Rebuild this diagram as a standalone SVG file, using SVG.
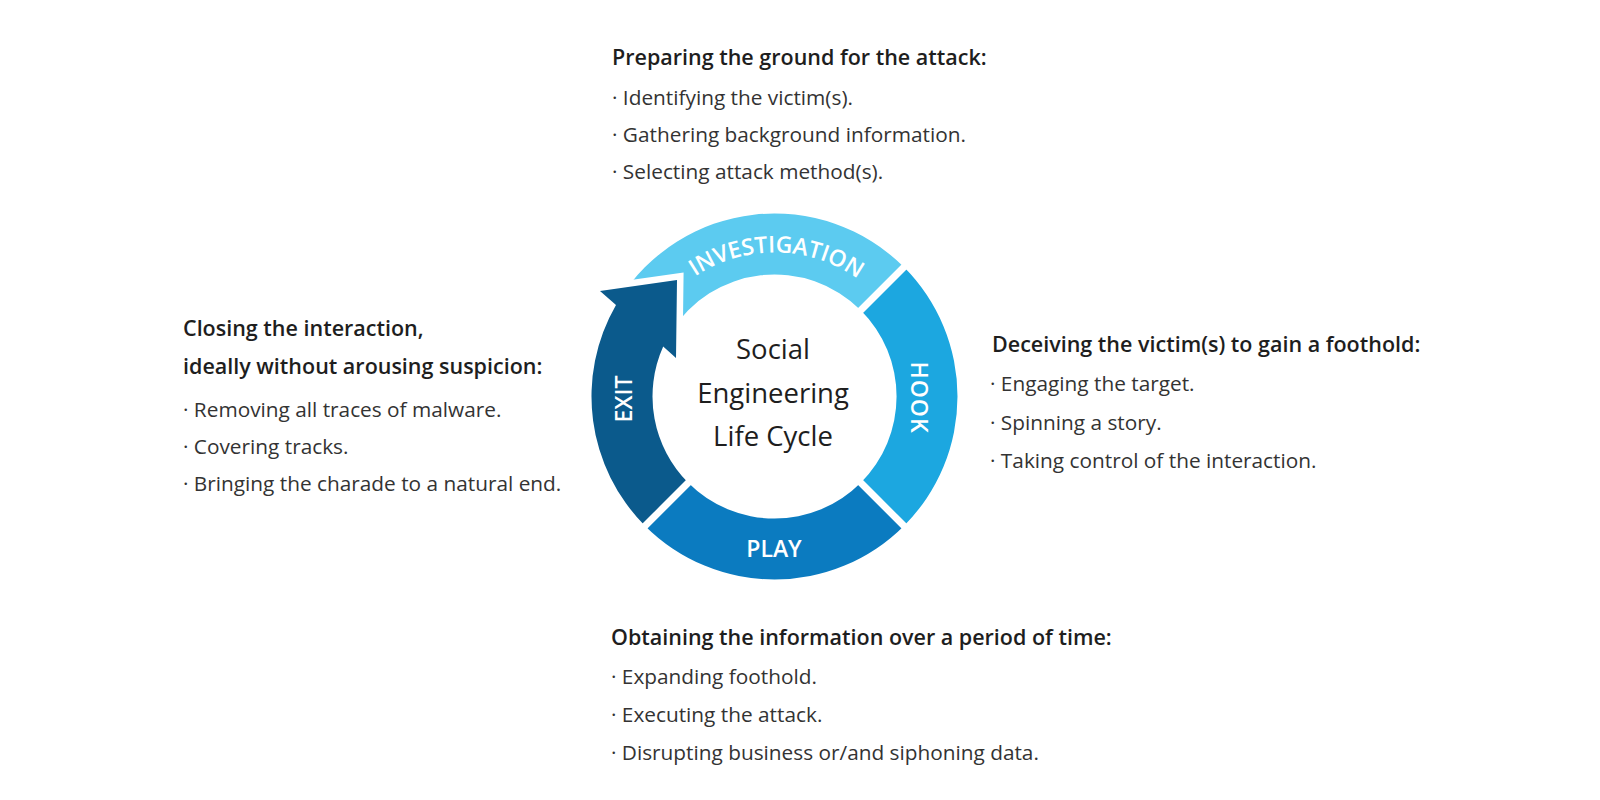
<svg xmlns="http://www.w3.org/2000/svg" width="1600" height="800" viewBox="0 0 1600 800">
  <style>
    .h { font-family: "Open Sans", "Liberation Sans", sans-serif; font-size: 21.5px; font-weight: 600; fill: #1e1e1e; }
    .b { font-family: "Open Sans", "Liberation Sans", sans-serif; font-size: 20.8px; font-weight: 400; fill: #333333; }
    .lbl { font-family: "Open Sans", "Liberation Sans", sans-serif; font-size: 23px; font-weight: 600; fill: #ffffff; }
    .ctr { font-family: "Open Sans", "Liberation Sans", sans-serif; font-size: 27.5px; font-weight: 400; fill: #1e1e1e; text-anchor: middle; }
    .sep { stroke: #ffffff; stroke-width: 7; fill: none; }
  </style>
  <defs>
    <path id="invArc" d="M 630.5 396.5 A 144 144 0 0 1 918.5 396.5"/>
  </defs>
  <rect x="0" y="0" width="1600" height="800" fill="#ffffff"/>

  <g id="investigation">
    <path d="M 619.3 299.5 A 183 183 0 0 1 903.9 267.1 L 860.8 310.2 A 122 122 0 0 0 671.0 331.9 Z" fill="#5ccbf0"/>
    <polygon points="600,291 677,280 676,358" fill="#ffffff" stroke="#ffffff" stroke-width="13" stroke-linejoin="miter"/>
    <text class="lbl"><textPath href="#invArc" startOffset="50.5%" text-anchor="middle">INVESTIGATION</textPath></text>
  </g>

  <g id="hook">
    <path d="M 903.9 267.1 A 183 183 0 0 1 903.9 525.9 L 860.8 482.8 A 122 122 0 0 0 860.8 310.2 Z" fill="#1ca7e0"/>
    <text class="lbl" text-anchor="middle" letter-spacing="1" transform="translate(911 397.5) rotate(90)">HOOK</text>
  </g>

  <g id="play">
    <path d="M 903.9 525.9 A 183 183 0 0 1 645.1 525.9 L 688.2 482.8 A 122 122 0 0 0 860.8 482.8 Z" fill="#0b7bc0"/>
    <text class="lbl" x="774" y="557" text-anchor="middle">PLAY</text>
  </g>

  <g id="exit">
    <path d="M 645.1 525.9 A 183 183 0 0 1 616.0 305.0 L 600 291 L 677 280 L 676 358 L 663.2 346.6 A 122 122 0 0 0 688.2 482.8 Z" fill="#0b5a8c"/>
    <text class="lbl" text-anchor="middle" transform="translate(632 399) rotate(-90)">EXIT</text>
  </g>

  <g id="separators">
    <line class="sep" x1="855.8" y1="315.2" x2="908.8" y2="262.2"/>
    <line class="sep" x1="855.8" y1="477.8" x2="908.8" y2="530.8"/>
    <line class="sep" x1="693.2" y1="477.8" x2="640.2" y2="530.8"/>
  </g>

  <g id="center-title">
    <text class="ctr" x="773" y="359">Social</text>
    <text class="ctr" x="773" y="403">Engineering</text>
    <text class="ctr" x="773" y="446">Life Cycle</text>
  </g>

  <g id="text-investigation">
    <text class="h" x="612" y="65">Preparing the ground for the attack:</text>
    <text class="b" x="612" y="105">· Identifying the victim(s).</text>
    <text class="b" x="612" y="142">· Gathering background information.</text>
    <text class="b" x="612" y="179">· Selecting attack method(s).</text>
  </g>

  <g id="text-hook">
    <text class="h" x="992" y="352">Deceiving the victim(s) to gain a foothold:</text>
    <text class="b" x="990" y="391">· Engaging the target.</text>
    <text class="b" x="990" y="430">· Spinning a story.</text>
    <text class="b" x="990" y="468">· Taking control of the interaction.</text>
  </g>

  <g id="text-play">
    <text class="h" x="611" y="645">Obtaining the information over a period of time:</text>
    <text class="b" x="611" y="684">· Expanding foothold.</text>
    <text class="b" x="611" y="722">· Executing the attack.</text>
    <text class="b" x="611" y="760">· Disrupting business or/and siphoning data.</text>
  </g>

  <g id="text-exit">
    <text class="h" x="183" y="336">Closing the interaction,</text>
    <text class="h" x="183" y="374">ideally without arousing suspicion:</text>
    <text class="b" x="183" y="417">· Removing all traces of malware.</text>
    <text class="b" x="183" y="454">· Covering tracks.</text>
    <text class="b" x="183" y="491">· Bringing the charade to a natural end.</text>
  </g>
</svg>
